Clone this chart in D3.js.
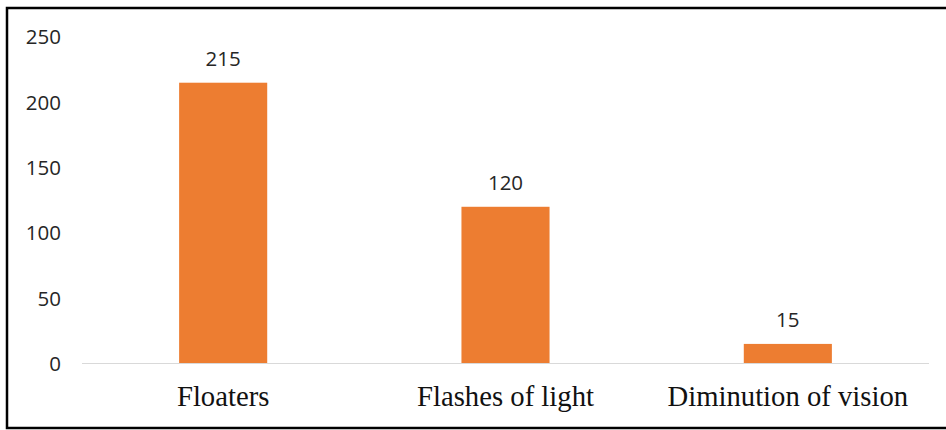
<!DOCTYPE html>
<html>
<head>
<meta charset="utf-8">
<script src="https://cdn.jsdelivr.net/npm/d3@7"></script>
<style>
  body { margin: 0; background: #fff; }
  svg { display: block; }
</style>
</head>
<body>
<div id="chart"></div>
<script>
// chart data
const categories = ["Floaters", "Flashes of light", "Diminution of vision"];
const counts = [215, 120, 15];
const yTicks = [0, 50, 100, 150, 200, 250];

const W = 946, H = 430;
const plot = { left: 82, right: 929, top: 37, bottom: 363.5 };

const svg = d3.select("#chart").append("svg")
  .attr("width", W)
  .attr("height", H);

// outer frame (right edge runs off the picture)
svg.append("rect")
  .attr("x", 7).attr("y", 8)
  .attr("width", 960).attr("height", 420)
  .attr("fill", "none")
  .attr("stroke", "#000")
  .attr("stroke-width", 2.5);

const x = d3.scaleBand()
  .domain(categories)
  .range([plot.left, plot.right])
  .padding(0);

const y = d3.scaleLinear()
  .domain([0, 250])
  .range([plot.bottom, plot.top]);

const barW = x.bandwidth() * 0.312;

// y tick labels (no axis line, no gridlines)
svg.append("g")
  .selectAll("text")
  .data(yTicks)
  .join("text")
  .attr("x", 61)
  .attr("y", d => y(d))
  .attr("dy", "0.36em")
  .attr("text-anchor", "end")
  .attr("font-family", "'Open Sans', sans-serif")
  .attr("font-size", 20.5)
  .attr("fill", "#262626")
  .text(d => d);

// bars
svg.append("g")
  .selectAll("rect")
  .data(counts)
  .join("rect")
  .attr("x", (d, i) => x(categories[i]) + x.bandwidth() / 2 - barW / 2)
  .attr("y", d => y(d))
  .attr("width", barW)
  .attr("height", d => y(0) - y(d))
  .attr("fill", "#ED7D31");

// baseline
svg.append("line")
  .attr("x1", plot.left).attr("x2", plot.right)
  .attr("y1", y(0)).attr("y2", y(0))
  .attr("stroke", "#d9d9d9")
  .attr("stroke-width", 1.2);

// value labels
svg.append("g")
  .selectAll("text")
  .data(counts)
  .join("text")
  .attr("x", (d, i) => x(categories[i]) + x.bandwidth() / 2)
  .attr("y", d => y(d) - 17)
  .attr("text-anchor", "middle")
  .attr("font-family", "'Open Sans', sans-serif")
  .attr("font-size", 20.5)
  .attr("fill", "#262626")
  .text(d => d);

// category labels
svg.append("g")
  .selectAll("text")
  .data(categories)
  .join("text")
  .attr("x", d => x(d) + x.bandwidth() / 2)
  .attr("y", 406)
  .attr("text-anchor", "middle")
  .attr("font-family", "'Liberation Serif', 'Times New Roman', serif")
  .attr("font-size", 28.7)
  .attr("fill", "#111")
  .text(d => d);
</script>
</body>
</html>
